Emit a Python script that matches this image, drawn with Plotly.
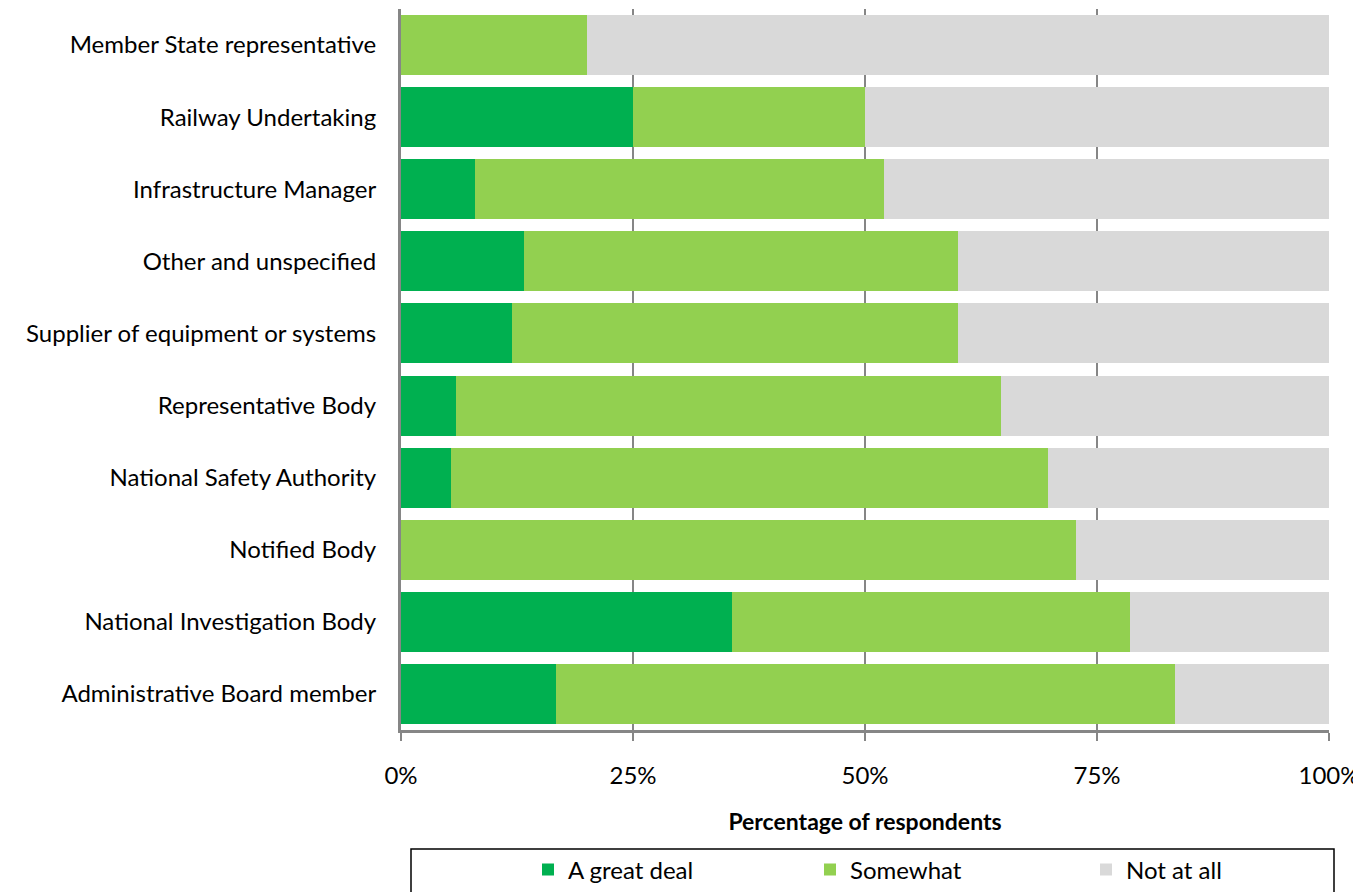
import plotly.graph_objects as go

categories = ["Administrative Board member", "National Investigation Body", "Notified Body",
              "National Safety Authority", "Representative Body", "Supplier of equipment or systems",
              "Other and unspecified", "Infrastructure Manager", "Railway Undertaking",
              "Member State representative"]
great_deal = [16.7, 35.7, 0.0, 5.4, 5.9, 12.0, 13.3, 8.0, 25.0, 0.0]
somewhat = [66.7, 42.9, 72.7, 64.3, 58.8, 48.0, 46.7, 44.0, 25.0, 20.0]
not_at_all = [16.6, 21.4, 27.3, 30.3, 35.3, 40.0, 40.0, 48.0, 50.0, 80.0]
x_ticks = [0, 25, 50, 75, 100]
x_tick_labels = ["0%", "25%", "50%", "75%", "100%"]

FONT = "Lato, 'Open Sans', sans-serif"

# page body has an 8px margin; compensate so targets are in window pixels
OX, OY = 8, 8
W, H = 1361, 892
l = 401 - OX
r = W - (1329 - OX)
t = 9 - OY
b = H - (730 - OY)
pw = W - l - r
ph = H - t - b

def px_x(p):
    return (p - OX - l) / pw

def px_y(p):
    return (H - b - (p - OY)) / ph

fig = go.Figure()
series = [("A great deal", great_deal, "#00B050", "legend", 528),
          ("Somewhat", somewhat, "#92D050", "legend2", 810),
          ("Not at all", not_at_all, "#D9D9D9", "legend3", 1086)]
for name, vals, col, lg, _ in series:
    fig.add_trace(go.Bar(y=categories, x=vals, name=name, orientation="h", legend=lg,
                         marker=dict(color=col, line=dict(width=0))))

leg_common = dict(orientation="h", yanchor="middle", font=dict(size=24),
                  bgcolor="rgba(0,0,0,0)", xanchor="left")
legends = {}
for name, vals, col, lg, xp in series:
    legends[lg] = dict(leg_common, x=px_x(xp), y=px_y(870))

fig.update_layout(
    width=W, height=H, barmode="stack", bargap=0.167,
    margin=dict(l=l, r=r, t=t, b=b),
    plot_bgcolor="white", paper_bgcolor="white",
    font=dict(family=FONT, size=24, color="black"),
    xaxis=dict(range=[0, 100], tickvals=x_ticks, ticktext=x_tick_labels,
               showgrid=True, gridcolor="#868686", gridwidth=2,
               showline=True, linecolor="#868686", linewidth=3,
               ticks="outside", ticklen=8, tickcolor="#868686", tickwidth=2,
               ticklabelstandoff=14, zeroline=False, automargin=False,
               title=dict(text="<b>Percentage of respondents</b>", font=dict(size=23), standoff=27)),
    yaxis=dict(showline=True, linecolor="#868686", linewidth=3, showgrid=False,
               ticks="", ticklabelstandoff=17, range=[-0.5, 9.5], automargin=False),
    showlegend=True,
    **legends,
)
fig.add_shape(type="rect", xref="paper", yref="paper",
              x0=px_x(411), x1=px_x(1334),
              y0=px_y(849), y1=px_y(900),
              line=dict(color="black", width=1.5), fillcolor="rgba(0,0,0,0)")
fig.write_html("out.html")
